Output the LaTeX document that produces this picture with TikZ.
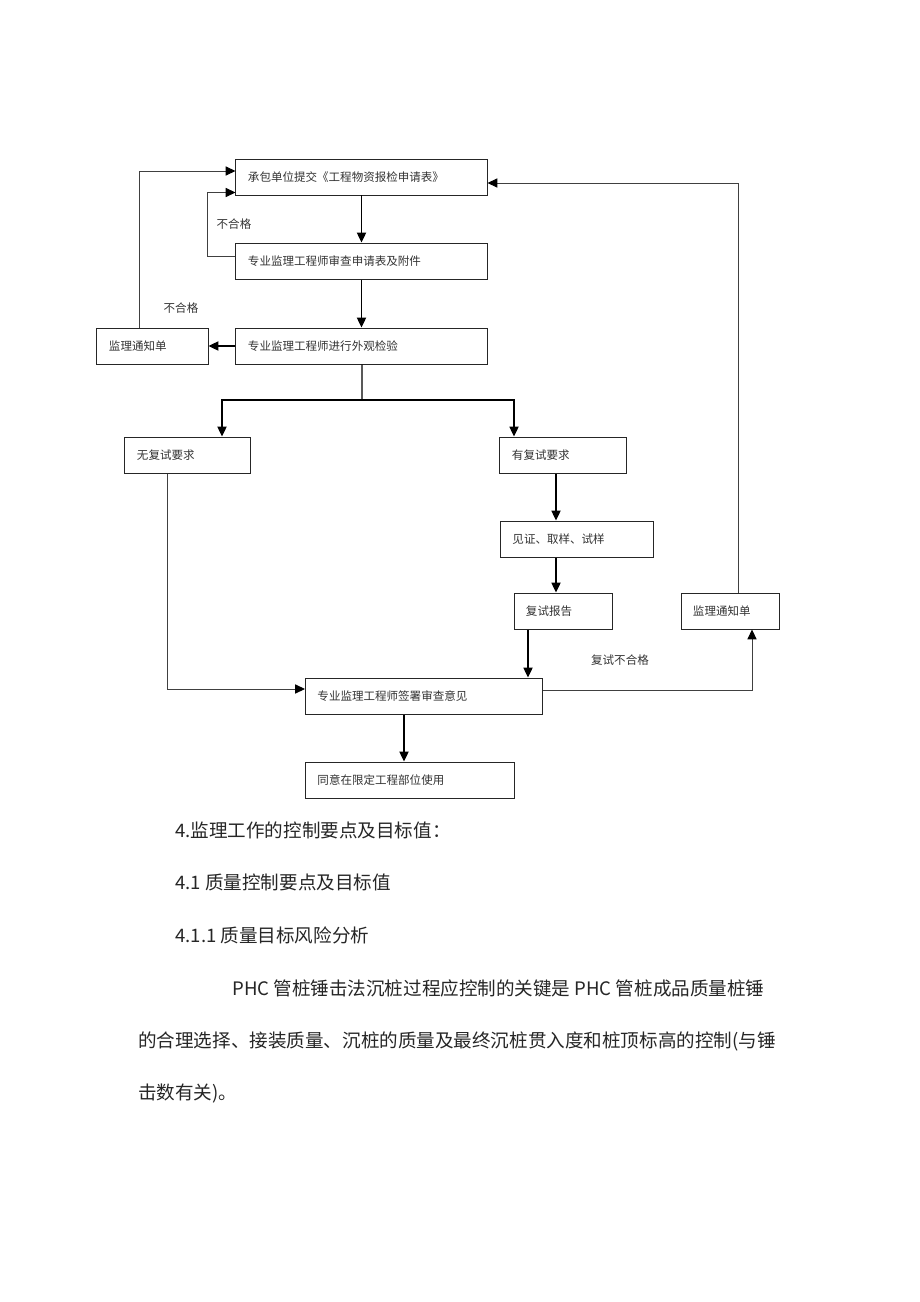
\documentclass[tikz,border=0pt]{standalone}
\usepackage{fontspec}
\setmainfont{Noto Sans CJK SC}
\usepackage{tikz}
\usetikzlibrary{arrows.meta,calc}
\tikzstyle{procbox}=[shape=rectangle,draw=black!85,line width=0.7pt,align=left,inner xsep=0.3cm,inner ysep=0pt,minimum height=0.9cm,font=\fontsize{8.2}{10}\selectfont,text=black!80]
\tikzstyle{flowarrow}=[-{Triangle[length=7pt,width=6.5pt]},line width=0.95pt,black]
\tikzstyle{backline}=[-{Triangle[length=7pt,width=6.5pt,color=black]},line width=0.65pt,black!75]
\tikzstyle{note}=[font=\fontsize{8.2}{10}\selectfont,text=black!80]
\tikzstyle{bodytext}=[anchor=west,inner sep=0pt,font=\fontsize{13.2}{16}\selectfont,text=black!85]
\begin{document}
\begin{tikzpicture}[x=0.025cm,y=-0.025cm]
\fill[white] (0,0) rectangle (920,1302);
\useasboundingbox (0,0) rectangle (920,1302);

% main column
\node[procbox,text width=5.675cm] (submit) at (361.5,177) {承包单位提交《工程物资报检申请表》};
\node[procbox,text width=5.675cm] (review) at (361.5,261) {专业监理工程师审查申请表及附件};
\node[procbox,text width=5.675cm] (appear) at (361.5,346) {专业监理工程师进行外观检验};
\node[procbox,text width=2.175cm] (noticeA) at (152.5,346) {监理通知单};

% branches
\node[procbox,text width=2.525cm] (noretest) at (187.5,455) {无复试要求};
\node[procbox,text width=2.55cm] (retest) at (563,455) {有复试要求};
\node[procbox,text width=3.225cm] (sample) at (577,539) {见证、取样、试样};
\node[procbox,text width=1.85cm] (report) at (563,611) {复试报告};
\node[procbox,text width=1.85cm] (noticeB) at (730,611) {监理通知单};
\node[procbox,text width=5.325cm] (sign) at (424,696) {专业监理工程师签署审查意见};
\node[procbox,text width=4.625cm] (agree) at (410,780) {同意在限定工程部位使用};

\coordinate (split) at (362,400);

% labels
\node[note] (failA) at (234,224) {不合格};
\node[note] (failB) at (181,308) {不合格};
\node[note] (failC) at (620,660) {复试不合格};

% connectors
\draw[flowarrow] (submit) -- (review);
\draw[flowarrow] (review) -- (appear);
\draw[flowarrow] (appear) -- (noticeA);
\draw[backline] ($(review.west)+(0,-5)$) -- ++(-28,0) |- ($(submit.south west)+(0,-3)$);
\draw[backline] ($(noticeA.north)+(-13.5,0)$) |- ($(submit.west)+(0,-6)$);
\draw[line width=0.95pt] ($(appear.south)+(0.5,0)$) -- (split);
\draw[flowarrow] (split) -| ($(noretest.north)+(34.5,0)$);
\draw[flowarrow] (split) -| ($(retest.north)+(-49,0)$);
\draw[flowarrow] ($(retest.south)+(-7,0)$) -- ($(sample.north)+(-21,0)$);
\draw[flowarrow] ($(sample.south)+(-21,0)$) -- ($(report.north)+(-7,0)$);
\draw[flowarrow] ($(report.south)+(-35,0)$) -- ($(sign.north)+(104,0)$);
\draw[backline] ($(noretest.south)+(-20.5,0)$) |- ($(sign.west)+(0,-7)$);
\draw[backline] ($(sign.east)+(0,-6)$) -| ($(noticeB.south)+(22,0)$);
\draw[backline] ($(noticeB.north)+(8,0)$) |- ($(submit.east)+(0,6)$);
\draw[flowarrow] ($(sign.south)+(-20,0)$) -- ($(agree.north)+(-6,0)$);

% text below
\node[bodytext] (h1) at (175,830) {4.监理工作的控制要点及目标值：};
\node[bodytext] (h2) at (175,882) {4.1 质量控制要点及目标值};
\node[bodytext] (h3) at (175,935) {4.1.1 质量目标风险分析};
\node[bodytext] (p1) at (232,988) {PHC 管桩锤击法沉桩过程应控制的关键是 PHC 管桩成品质量桩锤};
\node[bodytext] (p2) at (138,1041) {的合理选择、接装质量、沉桩的质量及最终沉桩贯入度和桩顶标高的控制(与锤};
\node[bodytext] (p3) at (138,1094) {击数有关)。};
\end{tikzpicture}
\end{document}
